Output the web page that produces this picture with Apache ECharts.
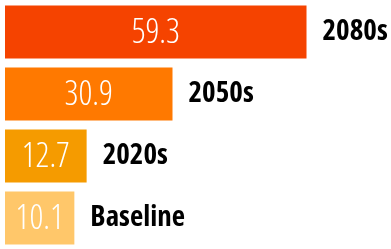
<!DOCTYPE html>
<html style="height: 100%">
<head>
    <meta charset="utf-8">
    <script src="https://cdn.jsdelivr.net/npm/echarts@6/dist/echarts.min.js"></script>
    <title>Projection by period</title>
</head>
<body style="height: 100%; margin: 0; background: #fff">
<div id="container" style="width: 391px; height: 249px"></div>
<script type="text/javascript">
    // top to bottom
    let periods = ['2080s', '2050s', '2020s', 'Baseline'];
    let values = [59.3, 30.9, 12.7, 10.1];
    let barColors = ['#F54300', '#FF7900', '#F59B00', '#FFC76A'];

    let dom = document.getElementById('container');
    let chart = echarts.init(dom);
    chart.setOption({
        animation: false,
        grid: {left: 5, top: 1, width: 352, height: 256},
        xAxis: {
            type: 'value',
            min: -4.6,
            max: 70,
            startValue: -4.6, // bars begin at the axis start
            show: false
        },
        yAxis: {
            type: 'category',
            data: periods,
            inverse: true,
            show: false
        },
        series: [
            {
                type: 'bar',
                barWidth: 53,
                data: values.map((v, i) => ({value: v, itemStyle: {color: barColors[i]}})),
                label: {
                    show: true,
                    position: 'inside',
                    offset: [0, 1],
                    color: '#fff',
                    fontFamily: 'Open Sans',
                    fontWeight: '300 condensed', // font-stretch goes in the font shorthand
                    fontSize: 34,
                    formatter: p => p.value.toFixed(1)
                }
            },
            {
                // name labels to the right of the bars
                type: 'bar',
                barWidth: 53,
                barGap: '-100%',
                data: values,
                itemStyle: {color: 'transparent'},
                label: {
                    show: true,
                    position: 'right',
                    distance: 16,
                    color: '#000',
                    fontFamily: 'Open Sans',
                    fontWeight: 'bold condensed',
                    fontSize: 29,
                    formatter: '{b}'
                }
            }
        ]
    });
</script>
</body>
</html>
